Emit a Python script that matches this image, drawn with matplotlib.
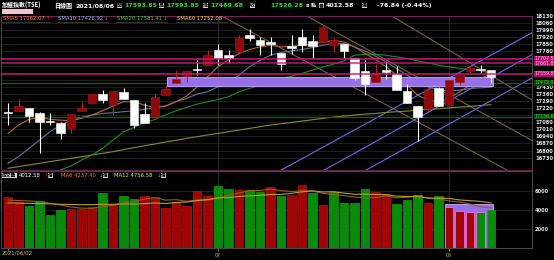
import numpy as np
import matplotlib.pyplot as plt
from matplotlib.patches import Rectangle
from matplotlib.lines import Line2D
from matplotlib.transforms import blended_transform_factory

CJK = ['Noto Sans CJK TC', 'DejaVu Sans']
plt.rcParams['font.family'] = CJK

# ---- data (TAIEX daily, 2021/06/02 .. 2021/08/06) ----
opens = [17180, 17194, 17217, 17167, 17092, 17075, 17019, 17194, 17272, 17358,
         17249, 17381, 17299, 17157, 17128, 17348, 17470, 17535, 17601, 17644,
         17792, 17743, 17775, 17940, 17890, 17874, 17769, 17831, 17923, 17884,
         17874, 17841, 17851, 17716, 17588, 17480, 17595, 17552, 17387, 17243,
         17207, 17414, 17249, 17480, 17588, 17605, 17593.85]
highs = [17266, 17305, 17225, 17184, 17174, 17080, 17160, 17276, 17364, 17397,
         17387, 17414, 17299, 17266, 17371, 17447, 17595, 17588, 17700, 17792,
         17858, 17792, 17940, 18005, 17923, 17923, 17769, 17940, 18005, 17940,
         18038, 17917, 17851, 17716, 17693, 17660, 17677, 17634, 17457, 17243,
         17397, 17430, 17496, 17545, 17628, 17644, 17593.85]
lows = [17052, 17190, 17085, 16773, 17052, 16911, 16977, 17194, 17272, 17266,
        17151, 17309, 17019, 17069, 17128, 17348, 17470, 17480, 17545, 17644,
        17644, 17667, 17775, 17884, 17749, 17743, 17595, 17759, 17775, 17710,
        17874, 17775, 17710, 17496, 17348, 17480, 17512, 17397, 17266, 16898,
        17184, 17240, 17226, 17453, 17562, 17562, 17469.68]
closes = [17170, 17240, 17141, 17085, 17085, 16970, 17157, 17217, 17364, 17299,
          17387, 17309, 17052, 17069, 17332, 17404, 17503, 17588, 17595, 17749,
          17710, 17710, 17915, 17910, 17841, 17858, 17660, 17818, 17841, 17835,
          18022, 17890, 17785, 17522, 17457, 17562, 17572, 17397, 17266, 17134,
          17397, 17240, 17496, 17545, 17618, 17598, 17526.28]

sma5 = [16970, 17052, 17108, 17128, 17108, 17101, 17095, 17118, 17151, 17194,
        17240, 17283, 17283, 17249, 17226, 17240, 17283, 17338, 17430, 17529,
        17628, 17700, 17759, 17798, 17825, 17841, 17825, 17831, 17841, 17851,
        17874, 17884, 17874, 17825, 17759, 17700, 17628, 17545, 17447, 17348,
        17299, 17283, 17315, 17381, 17447, 17512, 17562]
sma10 = [16674, 16740, 16822, 16904, 16986, 17052, 17095, 17128, 17151, 17167,
         17174, 17184, 17194, 17207, 17226, 17240, 17283, 17315, 17358, 17381,
         17430, 17470, 17545, 17628, 17693, 17743, 17769, 17785, 17798, 17818,
         17841, 17858, 17858, 17825, 17785, 17733, 17677, 17611, 17545, 17480,
         17430, 17397, 17391, 17397, 17414, 17420, 17427]
sma20 = [16300, 16380, 16450, 16520, 16570, 16608, 16648, 16707, 16756, 16822,
         16904, 16986, 17029, 17075, 17108, 17151, 17194, 17226, 17259, 17282,
         17305, 17332, 17381, 17414, 17447, 17489, 17512, 17535, 17562, 17595,
         17628, 17654, 17687, 17742, 17752, 17752, 17742, 17726, 17710, 17687,
         17667, 17644, 17628, 17611, 17601, 17588, 17581]
sma60 = [16625, 16641, 16658, 16674, 16691, 16707, 16723, 16740, 16756, 16773,
         16789, 16809, 16829, 16848, 16865, 16885, 16901, 16921, 16937, 16954,
         16970, 16986, 17003, 17019, 17036, 17052, 17065, 17078, 17092, 17105,
         17118, 17131, 17141, 17151, 17161, 17167, 17177, 17184, 17190, 17200,
         17207, 17213, 17223, 17230, 17236, 17246, 17253]

volumes = [5400, 4874, 4421, 4947, 3509, 4000, 4140, 4140, 4350, 5825,
           4526, 5474, 5193, 5509, 5333, 4210, 4807, 4456, 6000, 5474,
           6491, 6175, 6105, 6105, 5930, 6456, 5509, 5579, 6632, 5754,
           4526, 5860, 4702, 4702, 6175, 5860, 5649, 4596, 5053, 5579,
           4702, 5439, 4350, 3895, 3754, 3825, 4012.58]
vol_up = [1, 1, 0, 0, 0, 0, 1, 1, 1, 0, 1, 0, 0, 1, 1, 1, 1, 1, 1, 1,
          0, 0, 1, 0, 0, 1, 0, 1, 1, 0, 1, 0, 0, 0, 0, 1, 1, 0, 0, 0,
          1, 0, 1, 1, 1, 0, 0]
vol_ma6 = [5050, 5000, 4950, 4900, 4700, 4525, 4315, 4193, 4181, 4327,
           4497, 4743, 4918, 5146, 5310, 5041, 5088, 4918, 5053, 5047,
           5240, 5567, 5784, 6058, 6047, 6210, 6047, 5947, 6035, 5977,
           5743, 5643, 5509, 5363, 5287, 5304, 5491, 5281, 5339, 5485,
           5240, 5170, 4953, 4836, 4620, 4328, 4237]
vol_ma12 = [4750, 4720, 4700, 4680, 4650, 4600, 4580, 4560, 4560, 4600,
            4600, 4634, 4617, 4670, 4746, 4684, 4792, 4830, 4985, 5096,
            5275, 5304, 5436, 5488, 5550, 5629, 5643, 5757, 5909, 6018,
            5895, 5927, 5778, 5655, 5661, 5640, 5617, 5462, 5424, 5424,
            5263, 5237, 5222, 5059, 4980, 4906, 4757]

month_idx = [0, 20, 42]
month_labels = ['2021/06/02', '07', '08']

price_ticks = list(range(16730, 18131, 70))
hidden_ticks = [17710, 17640, 17570, 17500, 17150]
magenta_levels = [17707.5, 17661.8, 17559.8]
green_levels = [17472.0, 17136.6]

# drawn trend lines (day index, price)
blue_x = [(25.9, 50.0), (30.0, 50.0), (34.0, 50.0)]
blue_y = [(16601, 17970), (16601, 17754), (16601, 17524)]
tan_x = [(20.4, 47.5), (28.5, 50.0), (36.6, 50.0)]
tan_y = [(18127, 16608), (18127, 16894), (18127, 17294)]
band_x = (15.1, 46.2)
band_y = (17437, 17523)
vol_band_x = (41.6, 46.2)
vol_band_top = 4600

# ---- figure ----
W, H = 554, 260
fig = plt.figure(figsize=(W / 100, H / 100), dpi=100, facecolor='black')


def px_rect(x0, y0, x1, y1):
    return [x0 / W, 1 - y1 / H, (x1 - x0) / W, (y1 - y0) / H]


def ftext(x, y, s, color='white', size=4.5, weight='bold', box=False, **kw):
    kw2 = dict(color=color, fontsize=size, fontweight=weight, ha='left', va='center')
    if box:
        kw2.update(color='black', bbox=dict(boxstyle='square,pad=0.08', fc='#d4d4d4', ec='none'))
    kw2.update(kw)
    fig.text(x / W, 1 - y / H, s, **kw2)


ax = fig.add_axes(px_rect(1, 16, 532, 170))
axv = fig.add_axes(px_rect(1, 171, 532, 248))
for a in (ax, axv):
    a.set_facecolor('black')
    a.set_xlim(-0.667, 49.9)
    for s in a.spines.values():
        s.set_color('#4a4a4a')
        s.set_linewidth(0.7)
ax.spines['top'].set_color('#7a1f5e')
ax.spines['bottom'].set_color('#6a1f50')
ax.set_ylim(16608, 18127)
axv.set_ylim(0, 8105)

x = np.arange(len(closes))

# grid
for p in price_ticks:
    ax.axhline(p, color='#232323', lw=0.6, zorder=0)
for v in (2000, 4000, 6000):
    axv.axhline(v, color='#262626', lw=0.6, zorder=0)
for m in month_idx[1:]:
    ax.axvline(m, color='#2c2c2c', lw=0.7, zorder=0)
    axv.axvline(m, color='#2c2c2c', lw=0.7, zorder=0)

ax.set_yticks(price_ticks)
ax.set_yticklabels(['' if p in hidden_ticks else str(p) for p in price_ticks])
ax.yaxis.tick_right()
ax.tick_params(axis='y', length=0, pad=2.2, labelsize=3.7, labelcolor='#e8e8e8')
ax.set_xticks([])
for lab in ax.get_yticklabels():
    lab.set_fontweight('bold')
    lab.set_family('DejaVu Sans')

# trend lines
for xs, ys in zip(blue_x, blue_y):
    ax.plot(xs, ys, color='#6a6af2', lw=0.8, zorder=2)
for xs, ys in zip(tan_x, tan_y):
    ax.plot(xs, ys, color='#76604a', lw=0.8, zorder=2)

# moving averages
ax.plot(x, sma60, color='#8c8c26', lw=0.8, zorder=2)
ax.plot(x, sma20, color='#1f8a1f', lw=0.8, zorder=2)
ax.plot(x, sma10, color='#5c7c94', lw=0.8, zorder=2)
ax.plot(x, sma5, color='#b06a30', lw=0.8, zorder=2)

# horizontal levels
for lv in green_levels:
    ax.axhline(lv, color='#0d660d', lw=0.9, zorder=2)
ax.add_patch(Rectangle((band_x[0], band_y[0]), band_x[1] - band_x[0], band_y[1] - band_y[0],
                       fc='#9670e8', ec='#c6aaff', lw=0.6, zorder=3))

# candles
o = np.array(opens)
c = np.array(closes)
up = c > o
bottoms = np.minimum(o, c)
heights = np.maximum(np.abs(c - o), 9)
body_c = np.where(up, '#8e0a0a', '#ffffff')
edge_c = np.where(up, '#b01818', '#ffffff')
wick_c = np.where(up, '#c41a1a', '#ffffff')
ax.vlines(x, lows, highs, colors=wick_c, lw=0.8, zorder=4)
ax.bar(x, heights, 0.8, bottom=bottoms, color=body_c, edgecolor=edge_c, lw=0.4, zorder=5)

for lv in magenta_levels:
    ax.axhline(lv, color='#d0147e', lw=1.2, alpha=0.85, zorder=6)

tr = blended_transform_factory(ax.transAxes, ax.transData)
for lv in magenta_levels:
    ax.text(1.004, lv, f'{lv:.1f}', transform=tr, ha='left', va='center', fontsize=3.4,
            color='#ffb4e4', family='DejaVu Sans', clip_on=False,
            bbox=dict(boxstyle='square,pad=0.1', fc='#b0106c', ec='none'))
for lv in green_levels:
    ax.text(1.004, lv, f'{lv:.1f}', transform=tr, ha='left', va='center', fontsize=3.4,
            color='#3ae03a', family='DejaVu Sans', clip_on=False,
            bbox=dict(boxstyle='square,pad=0.1', fc='#0b440b', ec='none'))

# volume
axv.add_patch(Rectangle((vol_band_x[0], 0), vol_band_x[1] - vol_band_x[0], vol_band_top,
                        fc='#9670e8', ec='#c6aaff', lw=0.6, zorder=1.5))
vu = np.array(vol_up) == 1
vcol = np.where(vu, '#a00404', '#0a8a0a')
vedge = np.where(vu, '#c01010', '#10a010')
vedge[42:46] = '#ff78e8'
axv.bar(x, volumes, 0.8, color=vcol, edgecolor=vedge, lw=0.5, zorder=2)
axv.plot(x, vol_ma6, color='#9c5a22', lw=0.8, zorder=3)
axv.plot(x, vol_ma12, color='#b8a024', lw=0.8, zorder=3)

axv.set_yticks([2000, 4000, 6000])
axv.yaxis.tick_right()
axv.tick_params(axis='y', length=0, pad=2.2, labelsize=3.7, labelcolor='#e0e0e0')
for lab in axv.get_yticklabels():
    lab.set_fontweight('bold')
    lab.set_family('DejaVu Sans')
axv.set_xticks(month_idx)
axv.set_xticklabels(['', month_labels[1], month_labels[2]])
axv.tick_params(axis='x', length=2, width=0.6, color='#808080', pad=1.5,
                labelsize=3.9, labelcolor='#d0b258')
trv = blended_transform_factory(axv.transData, axv.transAxes)
axv.text(-0.57, -0.035, month_labels[0], transform=trv, ha='left', va='top',
         fontsize=3.9, color='#d0b258', family='DejaVu Sans', clip_on=False)

# ---- header texts ----
ty = 5.5
ftext(2, ty, '加權指數(TSE)', size=4.3)
ftext(54, ty, '日線圖', size=4.3)
ftext(76, ty, '2021/08/06', size=4.5, family='DejaVu Sans')
green = '#28dc28'
for lx, ch, vx, val in [(117, '開', 124, '17593.85'), (159, '高', 166, '17593.85'),
                        (203, '低', 210, '17469.68'), (250, '收', 270, '17526.28')]:
    ftext(lx, ty, ch, size=3.6, box=True)
    ftext(vx, ty, val, color=green, size=4.5, family='DejaVu Sans')
ftext(306, ty, 's', size=4.3, family='DejaVu Sans')
ftext(311, ty, '點', size=3.8)
ftext(319, ty, '量', size=3.6, box=True)
ftext(326, ty, '4012.58', size=4.5, family='DejaVu Sans')
ftext(362, ty, '億', size=3.6, box=True)
ftext(377, ty, '-76.84 (-0.44%)', size=4.5, family='DejaVu Sans')
fig.add_artist(Rectangle((2 / W, 1 - 14 / H), 31 / W, 5 / H, transform=fig.transFigure,
                         fc='#f2c4cc', ec='none'))

# legend row of the price panel
ly = 18.8
for lx, s, col, ax_, arr, acol in [(3, 'SMA5 17562.07', '#f58c26', 46, '↑', '#ff2020'),
                                   (58, 'SMA10 17426.92', '#78c0f0', 104, '↓', '#22dd22'),
                                   (117, 'SMA20 17581.41', '#34dd34', 163, '↓', '#22dd22'),
                                   (177, 'SMA60 17252.08', '#f0de34', 223, '↑', '#ff2020')]:
    ftext(lx, ly, s, color=col, size=3.8, weight='normal', family='DejaVu Sans')
    ftext(ax_, ly, arr, color=acol, size=3.8, weight='normal', family='DejaVu Sans')
    fig.add_artist(Line2D([(lx - 1) / W, (ax_ + 4) / W], [1 - 21.5 / H] * 2,
                          color='#3c3c3c', lw=0.6, transform=fig.transFigure))

# legend row of the volume panel
vy = 175.5
ftext(2, vy, '成交量', size=3.4, box=True)
ftext(19, vy, '4012.58', size=3.8, weight='normal', family='DejaVu Sans')
ftext(44, vy, '↑', color='#ff2020', size=3.8, weight='normal', family='DejaVu Sans')
ftext(48, vy, '億', size=3.3, box=True)
ftext(61, vy, 'MA6 4237.40', color='#f57a2a', size=3.8, weight='normal', family='DejaVu Sans')
ftext(99, vy, '↓', color='#22dd22', size=3.8, weight='normal', family='DejaVu Sans')
ftext(103, vy, '億', size=3.3, box=True)
ftext(114, vy, 'MA12 4756.58', color='#eeee24', size=3.8, weight='normal', family='DejaVu Sans')
ftext(157, vy, '↓', color='#22dd22', size=3.8, weight='normal', family='DejaVu Sans')
ftext(161, vy, '億', size=3.3, box=True)

fig.savefig('out.png', dpi=100, facecolor='black')
